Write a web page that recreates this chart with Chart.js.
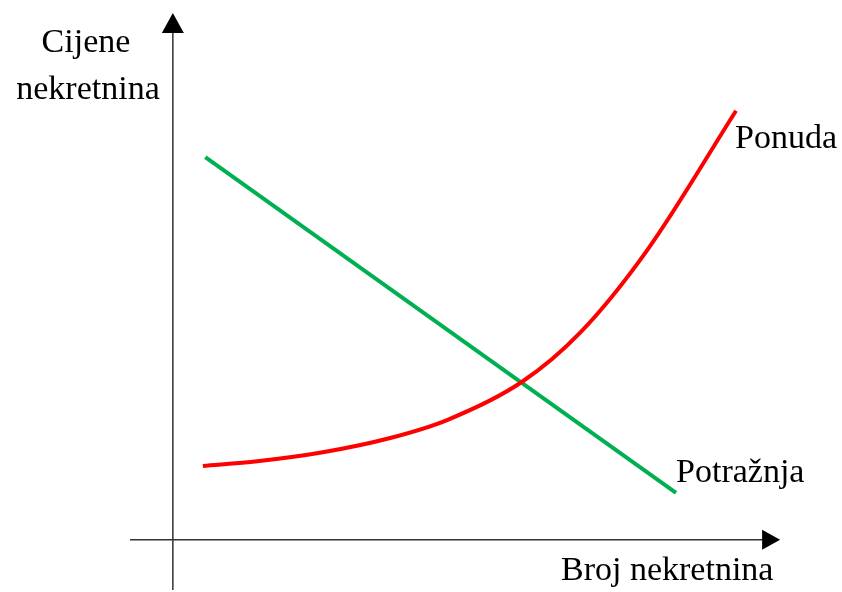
<!DOCTYPE html>
<html>
<head>
<meta charset="utf-8">
<script src="https://cdn.jsdelivr.net/npm/chart.js@4.4.1/dist/chart.umd.min.js"></script>
<style>
  html, body { margin: 0; padding: 0; background: #fff; }
</style>
</head>
<body>
<canvas id="graf" width="842" height="592"></canvas>
<script>
// ponuda (supply) - rising curve
const ponudaX = [4.9, 13.8, 24.5, 35.5, 44.8, 57.0, 66.5, 77.5, 92.0];
const ponudaY = [14.0, 14.9, 16.6, 19.3, 22.7, 29.9, 39.2, 54.9, 81.3];
// potraznja (demand) - straight falling line
const potraznjaX = [5.3, 82.2];
const potraznjaY = [72.5, 8.9];

const oznake = ['Ponuda', 'Potražnja'];
const osY = ['Cijene', 'nekretnina'];
const osX = 'Broj nekretnina';

const font = '34px "Liberation Serif", "Times New Roman", serif';

const tocke = (xs, ys) => xs.map((x, i) => ({ x: x, y: ys[i] }));

// axes with arrowheads + text labels
const osiPlugin = {
    id: 'osi',
    beforeDatasetsDraw(chart) {
        const ctx = chart.ctx;
        const sx = chart.scales.x, sy = chart.scales.y;
        const x0 = sx.getPixelForValue(0), y0 = sy.getPixelForValue(0);
        const xEnd = sx.getPixelForValue(99.2), yEnd = sy.getPixelForValue(99.8);
        ctx.save();
        ctx.strokeStyle = '#333';
        ctx.fillStyle = '#000';
        ctx.lineWidth = 1.5;
        ctx.beginPath();
        ctx.moveTo(sx.left, y0);
        ctx.lineTo(xEnd - 10, y0);
        ctx.moveTo(x0, sy.bottom);
        ctx.lineTo(x0, yEnd + 10);
        ctx.stroke();
        // arrow heads
        ctx.beginPath();
        ctx.moveTo(xEnd, y0);
        ctx.lineTo(xEnd - 18, y0 - 10);
        ctx.lineTo(xEnd - 18, y0 + 10);
        ctx.closePath();
        ctx.fill();
        ctx.beginPath();
        ctx.moveTo(x0, yEnd);
        ctx.lineTo(x0 - 11, yEnd + 20);
        ctx.lineTo(x0 + 11, yEnd + 20);
        ctx.closePath();
        ctx.fill();
        ctx.restore();
    },
    afterDatasetsDraw(chart) {
        const ctx = chart.ctx;
        ctx.save();
        ctx.font = font;
        ctx.fillStyle = '#000';
        ctx.textBaseline = 'alphabetic';
        ctx.textAlign = 'center';
        ctx.fillText(osY[0], 86, 52);
        ctx.fillText(osY[1], 88, 99);
        ctx.textAlign = 'left';
        ctx.fillText(osX, 561, 580);
        const kraj0 = chart.getDatasetMeta(0).data.at(-1);
        const kraj1 = chart.getDatasetMeta(1).data.at(-1);
        ctx.fillText(oznake[0], kraj0.x - 1, kraj0.y + 37);
        ctx.fillText(oznake[1], kraj1.x, kraj1.y - 11);
        ctx.restore();
    }
};

new Chart(document.getElementById('graf').getContext('2d'), {
    type: 'line',
    data: {
        datasets: [{
            label: oznake[0],
            data: tocke(ponudaX, ponudaY),
            borderColor: '#ff0000',
            borderWidth: 4,
            pointRadius: 0,
            cubicInterpolationMode: 'monotone',
            fill: false,
        }, {
            label: oznake[1],
            data: tocke(potraznjaX, potraznjaY),
            borderColor: '#00b050',
            borderWidth: 4,
            pointRadius: 0,
            fill: false,
        }],
    },
    options: {
        responsive: false,
        animation: false,
        layout: { padding: { left: 130, right: 57, top: 12, bottom: 2 } },
        plugins: { legend: { display: false }, tooltip: { enabled: false } },
        scales: {
            x: { type: 'linear', min: -7, max: 100, display: false },
            y: { type: 'linear', min: -9.5, max: 100, display: false },
        },
    },
    plugins: [osiPlugin],
});
</script>
</body>
</html>
